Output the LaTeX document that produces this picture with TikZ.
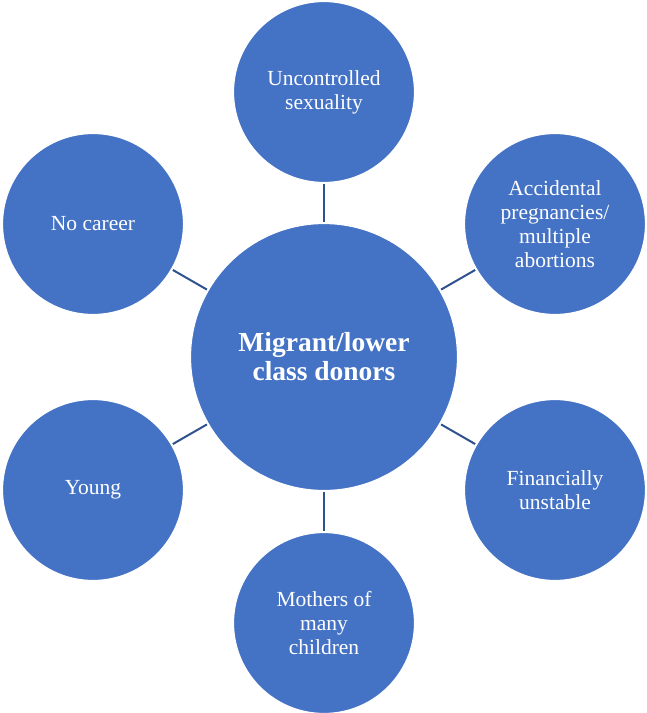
\documentclass[tikz,border=0pt]{standalone}
\usepackage{fontspec}
\setmainfont{Liberation Serif}
\definecolor{cfill}{HTML}{4472C4}
\definecolor{cline}{HTML}{2F528F}
\begin{document}
\begin{tikzpicture}[x=1pt,y=-1pt,
  outer/.style={circle,fill=cfill,draw=white,line width=1.2pt,minimum size=181pt,inner sep=0pt,align=center,text=white,font=\fontsize{21.5}{24}\selectfont},
  hub/.style={circle,fill=cfill,draw=white,line width=1.2pt,minimum size=267pt,inner sep=0pt,align=center,text=white,font=\fontsize{27.5}{29}\selectfont\bfseries},
  conn/.style={draw=cline,line width=2pt}]
\useasboundingbox (0,0) rectangle (646,713);
\node[hub] (c) at (324,357) {Migrant/lower\\class donors};
\node[outer] (t) at (324,92) {Uncontrolled\\sexuality};
\node[outer] (ur) at (555,224) {Accidental\\pregnancies/\\multiple\\abortions};
\node[outer] (lr) at (555,490) {Financially\\unstable};
\node[outer] (b) at (324,623) {Mothers of\\many\\children};
\node[outer] (ll) at (93,490) {Young};
\node[outer] (ul) at (93,224) {No career};
\foreach \n in {t,ur,lr,b,ll,ul}{\draw[conn,shorten <=1pt,shorten >=1pt] (c) -- (\n);}
\end{tikzpicture}
\end{document}
